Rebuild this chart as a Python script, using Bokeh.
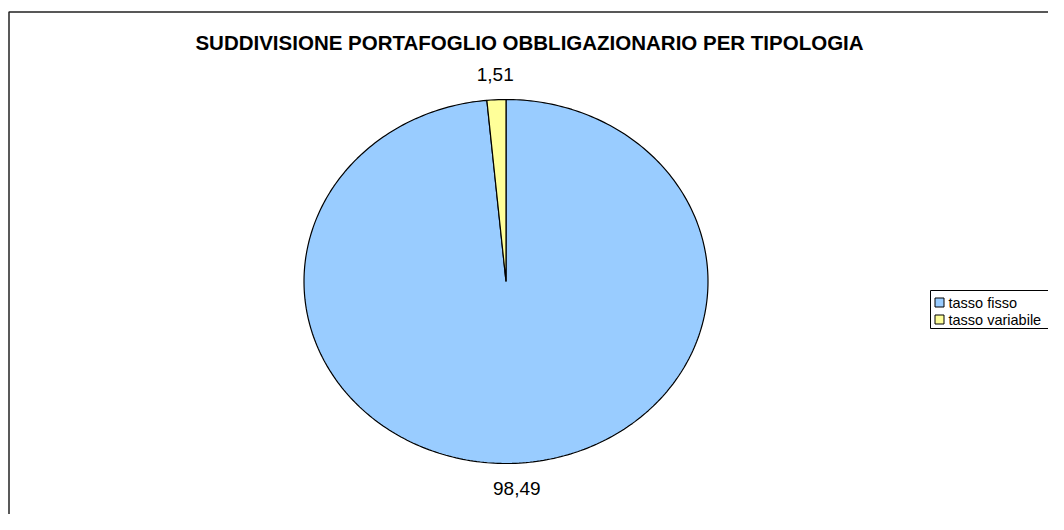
import math
from bokeh.plotting import figure
from bokeh.models import Range1d, ColumnDataSource
from bokeh.core.properties import value
from bokeh.embed import file_html
from bokeh.resources import INLINE

# ---- data ----
title = "SUDDIVISIONE PORTAFOGLIO OBBLIGAZIONARIO PER TIPOLOGIA"
categories = ["tasso fisso", "tasso variabile"]
values = [98.49, 1.51]
labels = ["98,49", "1,51"]
colors = ["#99CCFF", "#FFFF99"]

W, H = 1048, 514
p = figure(width=W, height=H, output_backend="svg", toolbar_location=None,
           x_range=Range1d(0, W), y_range=Range1d(H, 0),
           min_border=0, outline_line_color=None)
p.axis.visible = False
p.grid.visible = False
p.background_fill_color = "white"
p.border_fill_color = "white"

# chart border (extends past the visible page on right/bottom)
p.quad(left=[8.5], right=[W + 50], top=[11.5], bottom=[H + 50],
       fill_color=None, line_color="#222222", line_width=1.5)

# title
p.text(x=[529], y=[42], text=[title], text_font=value("Liberation Sans"),
       text_font_style="bold", text_font_size="20.5px", text_align="center",
       text_baseline="middle", text_color="black")

# pie (elliptical, starting at 12 o'clock, clockwise)
cx, cy, rx, ry = 505.5, 281, 202, 182
total = sum(values)
xs, ys, lx, ly = [], [], [], []
start = 0.0
for v in values:
    ang = v / total * 2 * math.pi
    n = max(int(ang / (2 * math.pi) * 360), 2)
    px = [cx]
    py = [cy]
    for i in range(n + 1):
        t = start + ang * i / n
        px.append(cx + rx * math.sin(t))
        py.append(cy - ry * math.cos(t))
    xs.append(px)
    ys.append(py)
    mid = start + ang / 2
    d = 25
    lx.append(cx + (rx + d) * math.sin(mid))
    ly.append(cy - (ry + d) * math.cos(mid))
    start += ang

src = ColumnDataSource(dict(xs=xs, ys=ys, color=colors))
p.patches("xs", "ys", source=src, fill_color="color", line_color="black",
          line_width=1.2)

p.text(x=lx, y=ly, text=labels, text_font=value("Liberation Sans"),
       text_font_size="19px", text_align="center", text_baseline="middle",
       text_color="black")

# legend
p.quad(left=[930], right=[W + 50], top=[290], bottom=[328],
       fill_color="white", line_color="black", line_width=1)
leg_y = [302 + 17 * i for i in range(len(categories))]
p.scatter(x=[939] * len(categories), y=leg_y, marker="square", size=9,
          fill_color=colors, line_color="black", line_width=1)
p.text(x=[948] * len(categories), y=leg_y, text=categories,
       text_font=value("Liberation Sans"), text_font_size="14.5px",
       text_align="left", text_baseline="middle", text_color="black")

open("out.html", "w").write(file_html(p, INLINE))
